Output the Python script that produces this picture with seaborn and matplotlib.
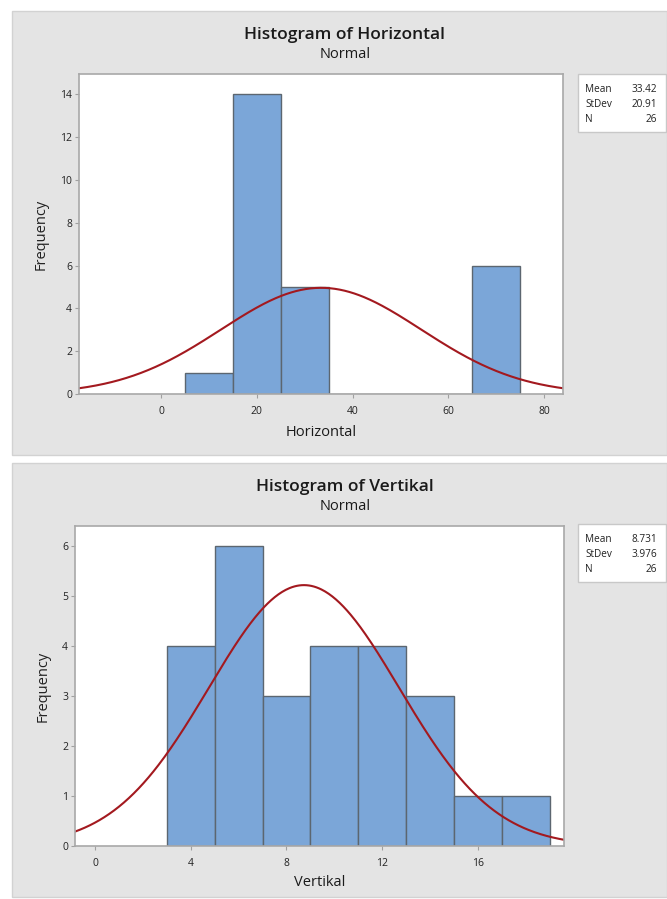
import numpy as np
import pandas as pd
import matplotlib
matplotlib.use("Agg")
import matplotlib.pyplot as plt
from matplotlib.patches import Rectangle
import seaborn as sns

# bin edges and counts
h_edges = [5, 15, 25, 35, 45, 55, 65, 75]
h_counts = [1, 14, 5, 0, 0, 0, 6]
h_mean, h_std, h_n = 33.42, 20.91, 26

v_edges = [3, 5, 7, 9, 11, 13, 15, 17, 19]
v_counts = [4, 6, 3, 4, 4, 3, 1, 1]
v_mean, v_std, v_n = 8.731, 3.976, 26

h_xticks = [0, 20, 40, 60, 80]
h_yticks = [0, 2, 4, 6, 8, 10, 12, 14]
v_xticks = [0, 4, 8, 12, 16]
v_yticks = [0, 1, 2, 3, 4, 5, 6]

sns.set_theme(style="white")
plt.rcParams['font.family'] = ['Open Sans', 'DejaVu Sans']

BAR = "#7ba6d8"
EDGE = "#5c6670"
CURVE = "#a3191f"
PANEL = "#e4e4e4"

W, H = 667, 899
fig = plt.figure(figsize=(W / 100, H / 100), dpi=100)
fig.patch.set_facecolor("white")

# grey panels behind each graph
for (y0, y1) in [(11, 455), (463, 897)]:
    fig.patches.append(Rectangle((12 / W, 1 - y1 / H), (W - 12) / W, (y1 - y0) / H,
                                 transform=fig.transFigure, facecolor=PANEL,
                                 edgecolor="#d2d2d2", linewidth=1, zorder=-1))


def draw(box, edges, counts, mean, std, n, xlim, ylim, xticks, yticks,
         name, title_y, sub_y, xlabel_y, stats_top, stats_vals):
    l, t, r, b = box
    ax = fig.add_axes([l / W, 1 - b / H, (r - l) / W, (b - t) / H])
    ax.set_zorder(2)
    ax.set_facecolor("white")
    centers = [(edges[i] + edges[i + 1]) / 2 for i in range(len(counts))]
    df = pd.DataFrame({"x": centers, "w": counts})
    sns.histplot(data=df, x="x", weights="w", bins=edges, ax=ax,
                 color=BAR, alpha=1, edgecolor=EDGE, linewidth=1)
    bw = edges[1] - edges[0]
    xs = np.linspace(xlim[0], xlim[1], 400)
    ys = n * bw * np.exp(-0.5 * ((xs - mean) / std) ** 2) / (std * np.sqrt(2 * np.pi))
    sns.lineplot(x=xs, y=ys, ax=ax, color=CURVE, linewidth=1.5)
    ax.set_xlim(*xlim)
    ax.set_ylim(*ylim)
    ax.set_xticks(xticks)
    ax.set_yticks(yticks)
    ax.tick_params(axis="both", which="both", direction="out", length=3,
                   width=0.8, color="#a0a0a0", labelsize=7.5, pad=2,
                   labelcolor="#222222", bottom=True, left=True)
    ax.tick_params(axis="x", pad=6)
    for s in ax.spines.values():
        s.set_color("#a8a8a8")
        s.set_linewidth(1.2)
    ax.set_xlabel("")
    ax.set_ylabel("Frequency", fontsize=10.5, color="#222222", labelpad=8,
                  fontweight="medium")

    cx = 345 / W
    fig.text(cx, 1 - title_y / H, f"Histogram of {name}", ha="center", va="center",
             fontsize=12.5, color="#1a1a1a", fontweight="semibold")
    fig.text(cx, 1 - sub_y / H, "Normal", ha="center", va="center",
             fontsize=10.5, color="#1a1a1a", fontweight="medium")
    fig.text((l + r) / 2 / W, 1 - xlabel_y / H, name, ha="center", va="center",
             fontsize=10.5, color="#1a1a1a", fontweight="medium")

    # statistics box
    bx0, bx1 = 578, 666
    by0, by1 = stats_top, stats_top + 58
    fig.patches.append(Rectangle((bx0 / W, 1 - by1 / H), (bx1 - bx0) / W, (by1 - by0) / H,
                                 transform=fig.transFigure, facecolor="white",
                                 edgecolor="#c8c8c8", linewidth=1, zorder=1))
    for i, (lab, val) in enumerate(zip(["Mean", "StDev", "N"], stats_vals)):
        yy = 1 - (stats_top + 15 + i * 15.5) / H
        fig.text(585 / W, yy, lab, ha="left", va="center", fontsize=7.2, color="#222222")
        fig.text(657 / W, yy, val, ha="right", va="center", fontsize=7.2, color="#222222")
    return ax


draw((79, 74, 563, 394), h_edges, h_counts, h_mean, h_std, h_n,
     (-17.1, 83.9), (0, 14.95), h_xticks, h_yticks, "Horizontal",
     35, 55, 432, 74, ["33.42", "20.91", "26"])
draw((75, 526, 564, 846), v_edges, v_counts, v_mean, v_std, v_n,
     (-0.84, 19.6), (0, 6.4), v_xticks, v_yticks, "Vertikal",
     487, 507, 883, 524, ["8.731", "3.976", "26"])

fig.savefig("out.png", dpi=100)
